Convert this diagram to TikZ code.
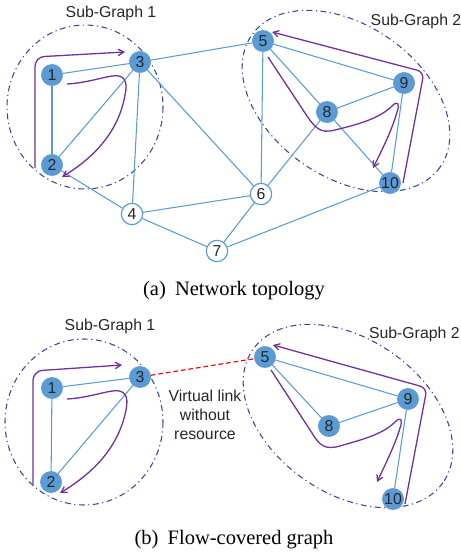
\documentclass[tikz,border=0pt]{standalone}
\usepackage{fontspec}
\setmainfont{Liberation Serif}
\newfontfamily\arialf{Liberation Sans}
\usepackage{xcolor}
\usepackage{tikz}
\usetikzlibrary{arrows}

\definecolor{nodeblue}{HTML}{5B9BD5}
\definecolor{groupblue}{HTML}{34479A}
\definecolor{flowpurple}{HTML}{7030A0}

\tikzset{
  vnode/.style={circle,fill=nodeblue,draw=nodeblue,minimum size=0.64cm,inner sep=0pt,
    font=\arialf\fontsize{13.5}{16}\selectfont,text=black!85},
  wnode/.style={vnode,fill=white,line width=1pt},
  link/.style={draw=nodeblue,line width=0.9pt},
  vlink/.style={draw=red,line width=1pt,dash pattern=on 4pt off 2.5pt},
  group/.style={draw=groupblue,line width=0.9pt,dash pattern=on 5pt off 3pt on 1pt off 3pt},
  flow/.style={draw=flowpurple,line width=1.1pt,->,>=angle 60},
  grouplabel/.style={font=\arialf\fontsize{13.5}{16}\selectfont,text=black!85},
  caption/.style={font=\fontsize{17.5}{20}\selectfont}
}

\begin{document}
\begin{tikzpicture}[x=0.03cm,y=-0.03cm]
\clip (0,0) rectangle (461,555);

% ---- (a) network topology ----
\draw[group] (85,107) ellipse [x radius=78, y radius=82];
\draw[group,rotate around={-35:(346,101)}] (346,101) ellipse [x radius=115, y radius=76];
\node[grouplabel] (ga1) at (111,13) {Sub-Graph 1};
\node[grouplabel] (ga2) at (416,21) {Sub-Graph 2};

\node[vnode] (a1) at (52,75) {1};
\node[vnode] (a2) at (52,165) {2};
\node[vnode] (a3) at (140,62) {3};
\node[wnode] (a4) at (132,214) {4};
\node[vnode] (a5) at (263,41) {5};
\node[wnode] (a6) at (261,194) {6};
\node[wnode] (a7) at (217,251) {7};
\node[vnode] (a8) at (327,112) {8};
\node[vnode] (a9) at (404,83) {9};
\node[vnode] (a10) at (390,183) {10};

\draw[link] (a1) -- (a3);
\draw[link] (a1) -- (a2);
\draw[link] (a2) -- (a3);
\draw[link] (a3) -- (a5);
\draw[link] (a3) -- (a4);
\draw[link] (a3) -- (a6);
\draw[link] (a2) -- (a4);
\draw[link] (a4) -- (a6);
\draw[link] (a4) -- (a7);
\draw[link] (a7) -- (a6);
\draw[link] (a7) -- (a10);
\draw[link] (a5) -- (a6);
\draw[link] (a8) -- (a6);
\draw[link] (a5) -- (a8);
\draw[link] (a5) -- (a9);
\draw[link] (a8) -- (a9);
\draw[link] (a8) -- (a10);
\draw[link] (a9) -- (a10);

% flows
\draw[flow,rounded corners=8pt] (35,168) -- (35,57) -- (125,52);
\draw[flow] (67,84) .. controls (85,83) and (100,78) .. (112,76)
  .. controls (125,74) and (128,82) .. (125,95)
  .. controls (118,135) and (90,160) .. (62,177);
\draw[flow,rounded corners=6pt] (403,183) -- (424,72) -- (272,32);
\draw[flow] (268,57) -- (305,113) .. controls (315,128) and (320,134) .. (335,130)
  .. controls (360,124) and (380,118) .. (392,106)
  .. controls (398,100) and (400,104) .. (397,112)
  .. controls (392,130) and (382,150) .. (373,168);

\node[caption] (capa) at (234,291) {(a)\hspace{0.45em}Network topology};

% ---- (b) flow-covered graph ----
\draw[group] (84,422) ellipse [x radius=79, y radius=83];
\draw[group,rotate around={-35:(348,416)}] (348,416) ellipse [x radius=116, y radius=77];
\node[grouplabel] (gb1) at (110,326) {Sub-Graph 1};
\node[grouplabel,anchor=east,inner xsep=1pt] (gb2) at (461,334) {Sub-Graph 2};

\node[vnode] (b1) at (52,388) {1};
\node[vnode] (b2) at (51,482) {2};
\node[vnode] (b3) at (140,377) {3};
\node[vnode] (b5) at (265,357) {5};
\node[vnode] (b8) at (329,426) {8};
\node[vnode] (b9) at (408,399) {9};
\node[vnode] (b10) at (393,499) {10};

\draw[link] (b1) -- (b3);
\draw[link] (b1) -- (b2);
\draw[link] (b2) -- (b3);
\draw[link] (b5) -- (b8);
\draw[link] (b5) -- (b9);
\draw[link] (b8) -- (b9);
\draw[link] (b9) -- (b10);
\draw[vlink] (b3) -- (b5);
\node[grouplabel,align=center] (vtext) at (205,415) {Virtual link\\without\\resource};

% flows
\draw[flow,rounded corners=8pt] (33,485) -- (33,371) -- (122,365);
\draw[flow] (67,399) .. controls (85,398) and (100,393) .. (112,391)
  .. controls (125,389) and (129,396) .. (126,410)
  .. controls (118,450) and (90,475) .. (60,493);
\draw[flow,rounded corners=6pt] (405,504) -- (427,388) -- (273,345);
\draw[flow] (271,370) -- (312,433) .. controls (320,446) and (325,450) .. (340,446)
  .. controls (360,440) and (382,435) .. (395,422)
  .. controls (401,416) and (403,420) .. (400,428)
  .. controls (395,445) and (385,465) .. (377,482);

\node[caption] (capb) at (234,540) {(b)\hspace{0.45em}Flow-covered graph};
\end{tikzpicture}
\end{document}
